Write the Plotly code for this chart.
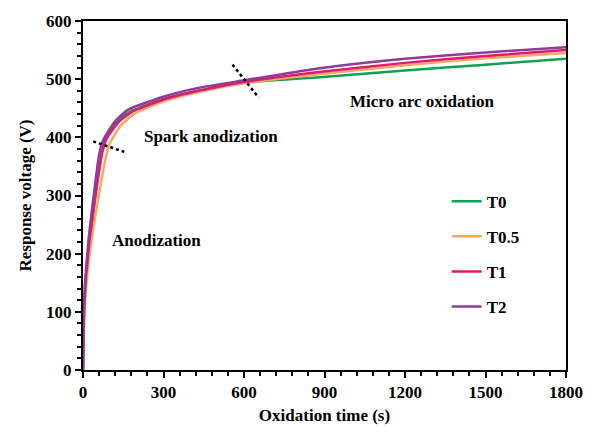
import plotly.graph_objects as go

# Data
t_T0 = [0, 5, 22, 45, 70, 82, 125, 175, 300, 430, 600, 870, 1200, 1500, 1800]
v_T0 = [0, 110, 205, 295, 372, 395, 428, 444, 466, 480, 494, 503, 515, 525, 535]

t_T05 = [0, 5, 25, 55, 85, 100, 140, 190, 300, 430, 600, 870, 1200, 1500, 1800]
v_T05 = [0, 100, 200, 290, 365, 390, 420, 440, 462, 478, 493, 508, 524, 536, 545]

t_T1 = [0, 5, 20, 45, 70, 85, 130, 180, 300, 430, 600, 870, 1200, 1500, 1800]
v_T1 = [0, 115, 205, 295, 370, 395, 425, 443, 465, 480, 495, 512, 528, 540, 550]

t_T2 = [0, 5, 20, 40, 60, 75, 120, 170, 300, 430, 600, 870, 1200, 1500, 1800]
v_T2 = [0, 130, 220, 300, 370, 395, 428, 448, 470, 485, 498, 518, 535, 546, 555]

series_names = ["T0", "T0.5", "T1", "T2"]
series_colors = ["#12a24f", "#f6a85e", "#e3196f", "#8e3b9b"]

# Stage separators (dotted) and stage labels
sep1_t = [38, 154]
sep1_v = [393, 375]
sep2_t = [557, 655]
sep2_v = [525, 468]
stage_labels = ["Anodization", "Spark anodization", "Micro arc oxidation"]
stage_t = [275, 476, 1265]
stage_v = [223, 402, 461]

FONT = "Liberation Serif"

fig = go.Figure()
for name, col, t, v in zip(series_names, series_colors,
                           [t_T0, t_T05, t_T1, t_T2], [v_T0, v_T05, v_T1, v_T2]):
    fig.add_trace(go.Scatter(x=t, y=v, mode="lines", name="<b>%s</b>" % name, legendgroup=name,
                             line=dict(color=col, width=2.5, shape="spline", smoothing=0.5)))

for st, sv in [(sep1_t, sep1_v), (sep2_t, sep2_v)]:
    fig.add_trace(go.Scatter(x=st, y=sv, mode="lines", showlegend=False, hoverinfo="skip",
                             line=dict(color="black", width=2.5, dash="dot")))

for txt, tx, ty in zip(stage_labels, stage_t, stage_v):
    fig.add_annotation(x=tx, y=ty, text="<b>%s</b>" % txt, showarrow=False,
                       font=dict(family=FONT, size=17, color="black"))

axis_common = dict(showline=True, linecolor="black", linewidth=2, mirror=True,
                   ticks="outside", ticklen=6, tickwidth=1.5, tickcolor="black",
                   showgrid=False, zeroline=False,
                   tickprefix="<b>", ticksuffix="</b>",
                   tickfont=dict(family=FONT, size=17, color="black"))

fig.update_xaxes(range=[0, 1800], tick0=0, dtick=300,
                 minor=dict(dtick=60, ticks="outside", ticklen=4, tickwidth=1.5, tickcolor="black"),
                 title=dict(text="<b>Oxidation time (s)</b>", font=dict(family=FONT, size=17, color="black"),
                            standoff=8),
                 **axis_common)
fig.update_yaxes(range=[0, 600], tick0=0, dtick=100,
                 minor=dict(dtick=20, ticks="outside", ticklen=4, tickwidth=1.5, tickcolor="black"),
                 title=dict(text="<b>Response voltage (V)</b>", font=dict(family=FONT, size=17, color="black"),
                            standoff=10),
                 **axis_common)

fig.update_layout(
    width=595, height=434,
    margin=dict(l=83, r=21, t=14, b=59),
    paper_bgcolor="white", plot_bgcolor="white",
    legend=dict(x=0.753, y=0.534, xanchor="left", yanchor="top",
                font=dict(family=FONT, size=17, color="black"),
                tracegroupgap=10, bgcolor="rgba(0,0,0,0)", itemwidth=30),
)

fig.write_html("out.html")
